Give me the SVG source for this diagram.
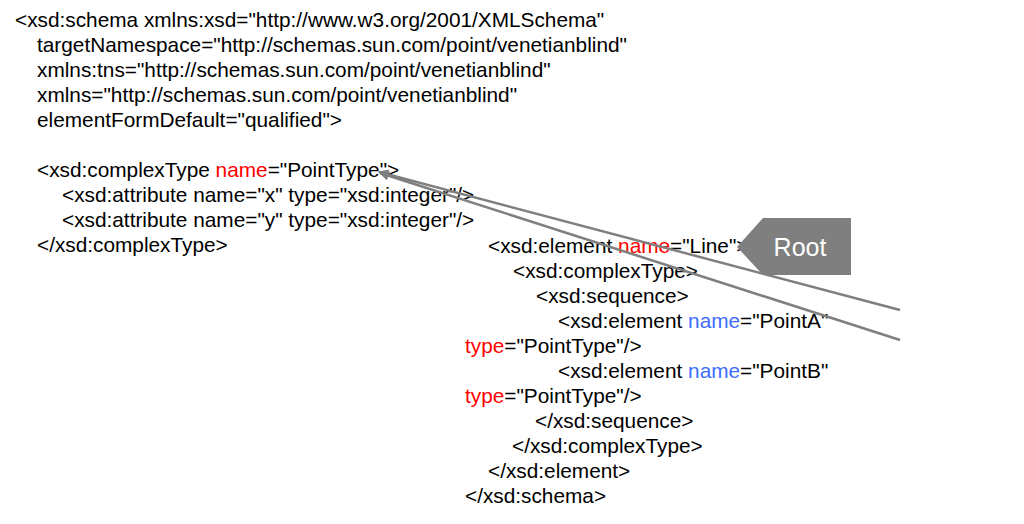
<svg xmlns="http://www.w3.org/2000/svg" width="1024" height="524" viewBox="0 0 1024 524">
<style>
.t{font-family:"Liberation Sans",Arial,sans-serif;font-size:20.8px;fill:#000}
.r{fill:#ff0000}
.b{fill:#3d6dff}
.c{fill:none;stroke:#7f7f7f;stroke-width:2.5}
.root{font-family:"Liberation Sans",Arial,sans-serif;font-size:25px;fill:#fff;text-anchor:middle}
</style>
<defs>
<marker id="ah" viewBox="0 0 10 10" refX="9" refY="5" markerWidth="4" markerHeight="4" orient="auto" markerUnits="strokeWidth">
<path d="M0,0 L10,5 L0,10 z" fill="#7f7f7f"/>
</marker>
</defs>
<rect width="1024" height="524" fill="#fff"/>
<g id="schema-text">
<text class="t" x="15" y="27">&lt;xsd:schema xmlns:xsd="http://www.w3.org/2001/XMLSchema"</text>
<text class="t" x="37" y="52">targetNamespace="http://schemas.sun.com/point/venetianblind"</text>
<text class="t" x="37" y="77">xmlns:tns="http://schemas.sun.com/point/venetianblind"</text>
<text class="t" x="37" y="102">xmlns="http://schemas.sun.com/point/venetianblind"</text>
<text class="t" x="37" y="127">elementFormDefault="qualified"&gt;</text>
</g>
<g id="pointtype">
<text class="t" x="37" y="177">&lt;xsd:complexType <tspan class="r">name</tspan>="PointType"&gt;</text>
<text class="t" x="62" y="202">&lt;xsd:attribute name="x" type="xsd:integer"/&gt;</text>
<text class="t" x="62" y="227">&lt;xsd:attribute name="y" type="xsd:integer"/&gt;</text>
<text class="t" x="37" y="252">&lt;/xsd:complexType&gt;</text>
</g>
<g id="line-element">
<text class="t" x="488" y="253">&lt;xsd:element <tspan class="r">name</tspan>="Line"&gt;</text>
<text class="t" x="513" y="278">&lt;xsd:complexType&gt;</text>
<text class="t" x="536" y="303">&lt;xsd:sequence&gt;</text>
<text class="t" x="558" y="328">&lt;xsd:element <tspan class="b">name</tspan>="PointA"</text>
<text class="t" x="465" y="353"><tspan class="r">type</tspan>="PointType"/&gt;</text>
<text class="t" x="558" y="378">&lt;xsd:element <tspan class="b">name</tspan>="PointB"</text>
<text class="t" x="465" y="403"><tspan class="r">type</tspan>="PointType"/&gt;</text>
<text class="t" x="535" y="428">&lt;/xsd:sequence&gt;</text>
<text class="t" x="512" y="453">&lt;/xsd:complexType&gt;</text>
<text class="t" x="488" y="478">&lt;/xsd:element&gt;</text>
<text class="t" x="465" y="503">&lt;/xsd:schema&gt;</text>
</g>
<g id="root-callout">
<polygon points="737,247 763,218 851,218 851,275 763,275" fill="#7f7f7f"/>
<text class="root" x="800" y="256">Root</text>
</g>
<g id="connectors">
<line class="c" x1="900" y1="310" x2="379" y2="172" marker-end="url(#ah)"/>
<line class="c" x1="900" y1="340" x2="380" y2="173" marker-end="url(#ah)"/>
</g>
</svg>
